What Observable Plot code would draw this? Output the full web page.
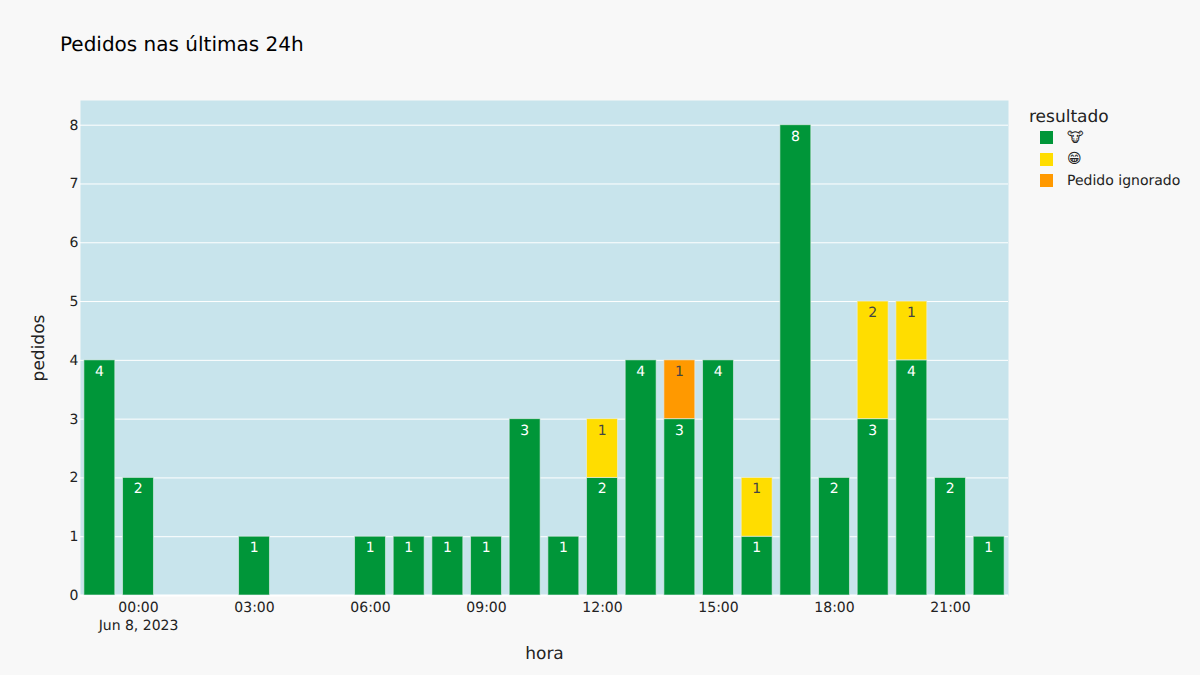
<!DOCTYPE html>
<html>
<head>
<meta charset="utf-8">
<script src="https://cdn.jsdelivr.net/npm/d3@7"></script>
<script src="https://cdn.jsdelivr.net/npm/@observablehq/plot@0.6"></script>
<style>
html,body{margin:0;padding:0;background:#f8f8f8;width:1200px;height:675px;overflow:hidden;font-family:"DejaVu Sans",sans-serif;text-rendering:geometricPrecision;}
#wrap{position:relative;width:1200px;height:675px;}
#wrap svg{position:absolute;left:0;top:0;text-rendering:geometricPrecision;}
.t{position:absolute;white-space:nowrap;line-height:1;}
.sw{position:absolute;width:13px;height:13px;}
</style>
</head>
<body>
<div id="wrap"></div>
<script>
const hours = ["23:00","00:00","01:00","02:00","03:00","04:00","05:00","06:00","07:00","08:00","09:00","10:00","11:00","12:00","13:00","14:00","15:00","16:00","17:00","18:00","19:00","20:00","21:00","22:00"];
const cow     = [4,2,0,0,1,0,0,1,1,1,1,3,1,2,4,3,4,1,8,2,3,4,2,1];
const grin    = [0,0,0,0,0,0,0,0,0,0,0,0,0,1,0,0,0,1,0,0,2,1,0,0];
const ignored = [0,0,0,0,0,0,0,0,0,0,0,0,0,0,0,1,0,0,0,0,0,0,0,0];
const results = ["🐮","😁","Pedido ignorado"];
const colors = ["#009639","#ffdd00","#ff9900"];
const labelColors = ["#ffffff","#444444","#444444"];
const xTicks = ["00:00","03:00","06:00","09:00","12:00","15:00","18:00","21:00"];
const yTicks = [0,1,2,3,4,5,6,7,8];
const firstDate = "Jun 8, 2023";
const FONT = '"DejaVu Sans", sans-serif';

const series = [cow, grin, ignored];
const rows = results.flatMap((r, i) =>
  hours.map((h, j) => ({hora: h, resultado: r, pedidos: series[i][j], lc: labelColors[i]})).filter(d => d.pedidos > 0));

const chart = Plot.plot({
  width: 1200, height: 675,
  marginLeft: 80, marginRight: 192, marginTop: 100, marginBottom: 80,
  style: {background: "transparent", fontFamily: FONT, color: "#222"},
  x: {type: "band", domain: hours, paddingInner: 0.2, paddingOuter: 0.1, round: false},
  y: {domain: [0, 8.42]},
  color: {domain: results, range: colors},
  marks: [
    Plot.frame({fill: "#c8e4ec", stroke: null}),
    Plot.gridY(yTicks, {stroke: "#ffffff", strokeOpacity: 1, strokeWidth: 1}),
    Plot.ruleY([0], {stroke: "#ffffff", strokeWidth: 2}),
    Plot.barY(rows, {x: "hora", y: "pedidos", z: "resultado", fill: "resultado", order: results, stroke: "#e6eef2", strokeOpacity: 0.6, strokeWidth: 1}),
    Plot.text(rows, Plot.stackY2({x: "hora", y: "pedidos", z: "resultado", order: results, text: d => String(d.pedidos), fill: "lc", dy: 11, dx: -0.4, fontSize: 14})),
    Plot.axisY({ticks: yTicks, tickSize: 0, tickPadding: 2, label: null, fontSize: 14, stroke: "none"}),
    Plot.axisY({ticks: [], label: "pedidos", labelAnchor: "center", labelArrow: "none", labelOffset: 49, fontSize: 17}),
    Plot.axisX({ticks: xTicks, tickSize: 0, tickPadding: 4, label: null, fontSize: 14, lineHeight: 1.28,
      tickFormat: d => d === "00:00" ? d + "\n" + firstDate : d}),
    Plot.axisX({ticks: [], label: "hora", labelAnchor: "center", labelArrow: "none", labelOffset: 63, fontSize: 17})
  ]
});
const wrap = document.getElementById("wrap");
wrap.appendChild(chart);

function addText(s, x, y, size, color) {
  const e = document.createElement("div");
  e.className = "t"; e.textContent = s;
  e.style.left = x + "px"; e.style.top = y + "px"; e.style.fontSize = size + "px"; e.style.color = color;
  wrap.appendChild(e);
}
addText("Pedidos nas últimas 24h", 60, 33.5, 20, "#000");
addText("resultado", 1029, 109, 17, "#222");
const rowTops = [131, 152.5, 174];
results.forEach((r, i) => {
  const s = document.createElement("div");
  s.className = "sw"; s.style.left = "1040px"; s.style.top = rowTops[i] + "px"; s.style.background = colors[i];
  wrap.appendChild(s);
  addText(r, 1067, rowTops[i] - 0.5, 14, "#222");
});
</script>
</body>
</html>
